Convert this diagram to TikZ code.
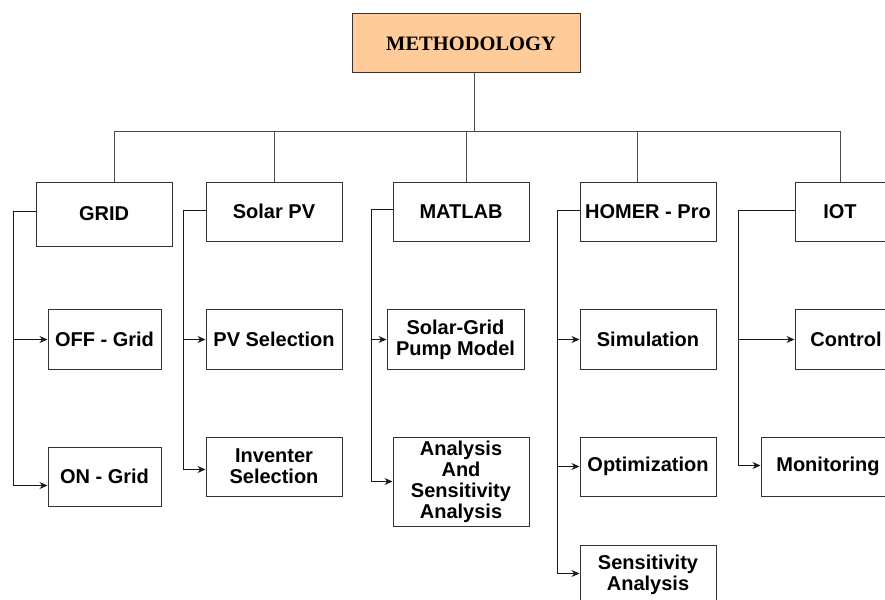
\documentclass[tikz,border=0pt]{standalone}
\usepackage{fontspec}
\setmainfont{Liberation Sans}
\newfontfamily\serifbold{Liberation Serif}
\usetikzlibrary{arrows.meta}
\definecolor{methodfill}{RGB}{255,204,153}

\begin{document}
\begin{tikzpicture}
[x=1pt,y=-1pt,
 nodedecorate/.style={shape=rectangle,inner sep=0pt,draw=black!80,line width=1pt,
   align=center,font=\fontsize{20}{21}\selectfont\bfseries},%
 linedecorate/.style={-,draw=black!70,line width=1pt},%
 arrowdecorate/.style={-{Stealth[length=8pt,width=7pt]},draw=black!90,line width=1pt}]
\useasboundingbox (0,0) rectangle (885,599);
\clip (0,0) rectangle (885,599);
%% nodes or vertices
\node (Method) at (466,43.5) [nodedecorate,fill=methodfill,minimum width=228pt,
  minimum height=59pt,font=\fontsize{20.5}{22}\serifbold\bfseries] {\hspace{10pt}METHODOLOGY};
\foreach \nodename/\x/\y/\w/\h/\txt in {
  GRID/104/214/136/64/GRID, SolarPV/274/211.5/136/59/Solar PV,
  MATLAB/461/211.5/136/59/MATLAB, HOMER/648/211.5/136/59/HOMER - Pro,
  IOT/840/211.5/90/59/IOT,
  OFFGrid/104.5/339.5/113/60/OFF - Grid, PVSel/274/339.5/136/60/PV Selection,
  PumpModel/455.5/339.5/137/60/{Solar-Grid\\Pump Model},
  Simulation/648/339.5/136/60/Simulation, Control/846/339.5/102/60/Control,
  ONGrid/104.5/476.5/113/59/ON - Grid, InvSel/274/466.5/136/59/{Inventer\\Selection},
  AnalysisSens/461/481.5/136/89/{Analysis\\And\\Sensitivity\\Analysis},
  Optimization/648/466.5/136/59/Optimization, Monitoring/828/466.5/134/59/Monitoring,
  Sensitivity/648/574.5/136/59/{Sensitivity\\Analysis}}
{
  \node (\nodename) at (\x,\y) [nodedecorate,minimum width=\w pt,minimum height=\h pt] {\txt};
}
%% top level bus
\coordinate (bus) at (0,131);
\draw[linedecorate] ([xshift=8pt]Method.south) -- ([xshift=8pt]Method.south |- bus);
\draw[linedecorate] ([xshift=10pt]GRID.north |- bus) -- (IOT.north |- bus);
\foreach \nodename/\dx in {GRID/10, SolarPV/0, MATLAB/5, HOMER/-11, IOT/0}
{
  \draw[linedecorate] ([xshift=\dx pt]\nodename.north |- bus) -- ([xshift=\dx pt]\nodename.north);
}
%% side buses
\foreach \parent/\bx/\py/\last/\ly in {GRID/13/3/ONGrid/-9, SolarPV/183/1/InvSel/-3,
  MATLAB/371/2/AnalysisSens/0, HOMER/557/1/Sensitivity/1, IOT/738/1/Monitoring/1}
{
  \coordinate (\parent bus) at (\bx,0);
  \coordinate (\last end) at ([yshift=\ly pt]\last.west);
  \draw[arrowdecorate] ([yshift=\py pt]\parent.west) -| (\parent bus |- \last end)
    -- (\last end);
}
\foreach \parent/\child in {GRID/OFFGrid, SolarPV/PVSel, MATLAB/PumpModel,
  HOMER/Simulation, HOMER/Optimization, IOT/Control}
{
  \draw[arrowdecorate] (\parent bus |- \child.west) -- (\child.west);
}
\end{tikzpicture}
\end{document}
